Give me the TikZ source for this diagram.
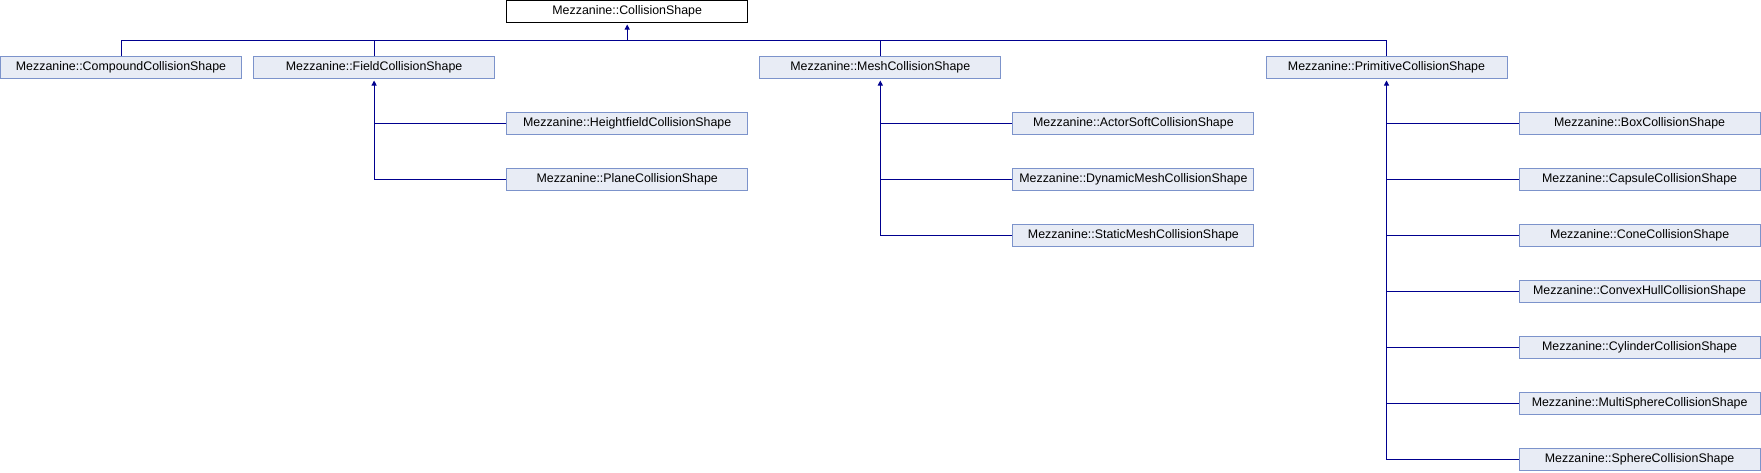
\documentclass[tikz,border=0pt]{standalone}
\usepackage{fontspec}
\setmainfont{Liberation Sans}
\usetikzlibrary{arrows.meta}
\definecolor{vien}{HTML}{7C93CB}
\definecolor{nen}{HTML}{E8ECF5}
\definecolor{duong}{HTML}{00008F}
\begin{document}
\begin{tikzpicture}[x=1pt,y=1pt]
\def\dx{253.1}
\def\dy{56}
\tikzset{s/.style={draw=vien,fill=nen,line width=1pt,rectangle,minimum width=241pt,minimum height=22pt,inner sep=0pt,font=\fontsize{12.4}{14}\selectfont},
g/.style={s,draw=black,fill=white},
l/.style={draw=duong,line width=1pt},
m/.style={l,{Triangle[length=5pt,width=5pt]}-,shorten <=1.5pt}}
\useasboundingbox(0,0)rectangle(1761,-472);
\path({2*\dx+121},-11.5)node[g](cs){Mezzanine::CollisionShape};
\path(121,{-\dy-11.5})node[s](compound){Mezzanine::CompoundCollisionShape}++(\dx,0)node[s](field){Mezzanine::FieldCollisionShape}++({2*\dx},0)node[s](mesh){Mezzanine::MeshCollisionShape}++({2*\dx},0)node[s](prim){Mezzanine::PrimitiveCollisionShape};
\path(field)++(\dx,-\dy)node[s](height){Mezzanine::HeightfieldCollisionShape}++(0,-\dy)node[s](plane){Mezzanine::PlaneCollisionShape};
\path(mesh)++(\dx,-\dy)node[s](actor){Mezzanine::ActorSoftCollisionShape}++(0,-\dy)node[s](dynmesh){Mezzanine::DynamicMeshCollisionShape}++(0,-\dy)node[s](staticmesh){Mezzanine::StaticMeshCollisionShape};
\path(prim)++(\dx,-\dy)node[s](box){Mezzanine::BoxCollisionShape}++(0,-\dy)node[s](capsule){Mezzanine::CapsuleCollisionShape}++(0,-\dy)node[s](cone){Mezzanine::ConeCollisionShape}++(0,-\dy)node[s](hull){Mezzanine::ConvexHullCollisionShape}++(0,-\dy)node[s](cylinder){Mezzanine::CylinderCollisionShape}++(0,-\dy)node[s](multi){Mezzanine::MultiSphereCollisionShape}++(0,-\dy)node[s](sphere){Mezzanine::SphereCollisionShape};
%%Thanh ngang
\coordinate(bus)at([yshift=-17pt]cs.south);
\draw[m](cs.south)--(bus);
\draw[l](compound.north)|-(prim.north|-bus)--(prim.north);
\foreach \x in {field,mesh}
\draw[l](\x.north)--(\x.north|-bus);
%%Nhanh con
\draw[m](field.south)|-(plane.west);
\draw[m](mesh.south)|-(staticmesh.west);
\draw[m](prim.south)|-(sphere.west);
\foreach \x/\y in {
field/height,
mesh/actor,mesh/dynmesh,
prim/box,prim/capsule,prim/cone,prim/hull,prim/cylinder,prim/multi}
\draw[l](\x.south|-\y.west)--(\y.west);
\end{tikzpicture}
\end{document}
